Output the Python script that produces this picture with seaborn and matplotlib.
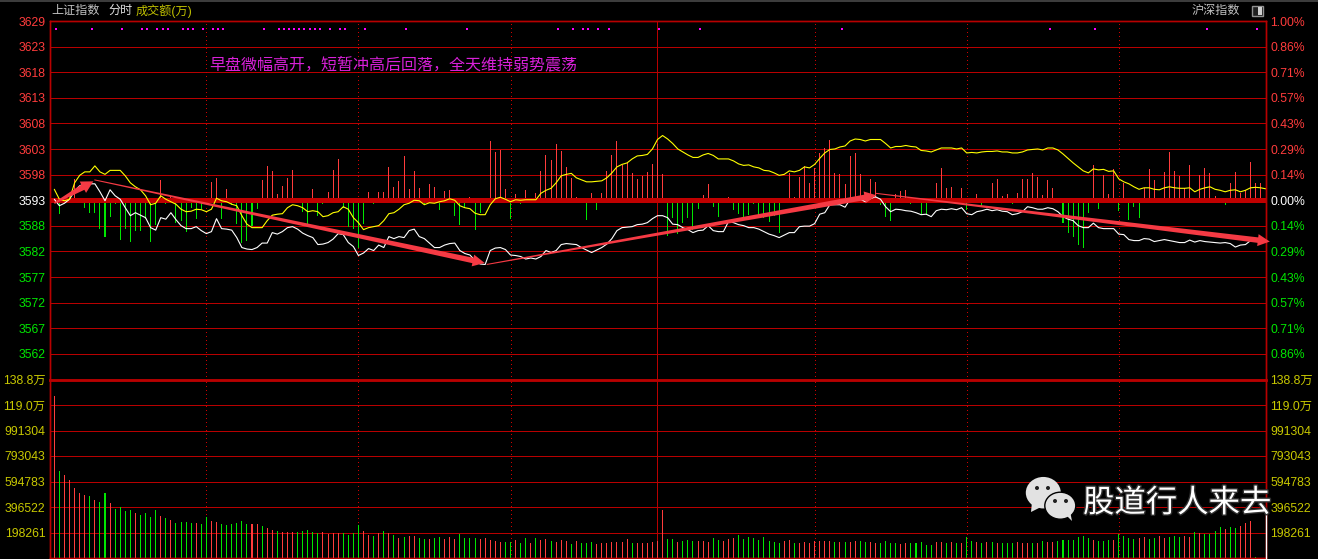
import matplotlib
matplotlib.use('Agg')
import matplotlib.pyplot as plt
import matplotlib.patheffects as pe
from matplotlib.patches import Ellipse, Polygon, Rectangle
from matplotlib.transforms import IdentityTransform
import numpy as np
import pandas as pd
import seaborn as sns

# index points away from the previous close, one value per minute
white_line = [
    0.2, -1.1, -0.6, 0.2, 1.9, 2.9, 3.3, 3.3, 3.3, 1.7, -0.1, 2.1, 0.9, 0.2, -1.5, -3.1, -2.5, -3.0, -3.5, -5.5,
    -6.0, -3.5, -3.8, -2.5, -3.9, -5.1, -5.7, -5.7, -5.3, -6.1, -6.7, -6.3, -3.7, -5.7, -5.8, -6.0, -7.5, -9.5, -9.8, -9.9,
    -9.5, -8.6, -8.6, -6.5, -6.8, -6.3, -5.5, -5.3, -5.8, -6.6, -7.1, -7.5, -8.9, -8.8, -8.5, -7.8, -6.7, -6.9, -8.5, -9.3,
    -11.1, -10.6, -9.7, -10.1, -9.0, -9.5, -7.3, -7.7, -7.3, -7.5, -6.1, -5.8, -7.3, -7.7, -8.6, -9.5, -9.5,
    -9.0, -8.7, -8.6, -10.1, -10.7, -11.0, -12.1, -12.8, -12.9, -10.1, -9.6, -9.5, -9.9,
    -11.0, -11.1, -11.3, -11.8, -11.6, -11.8, -11.3, -10.1, -10.5, -10.1,
    -8.9, -8.7, -8.8, -8.9, -9.5, -10.0, -10.5, -10.0, -9.5, -8.8,
    -7.7, -6.1, -5.5, -5.4, -5.3, -4.9, -4.8, -4.5, -3.7, -3.1,
    -3.1, -3.5, -4.8, -4.9, -5.5, -5.9, -6.5, -6.1, -6.0, -5.1,
    -6.1, -6.3, -6.3, -4.3, -4.5, -4.9, -5.1, -5.5, -5.5, -5.8,
    -6.3, -6.8, -7.1, -7.5, -7.0, -6.5, -6.5, -5.3, -5.2, -5.2,
    -4.7, -2.8, -2.5, -0.9, -0.9, -0.9, -1.4, 0.2, 0.3, 0.2,
    -0.3, 0.3, 0.7, 0.2, -1.3, -2.3, -1.8, -1.9, -2.1, -2.2,
    -2.5, -2.9, -2.8, -3.3, -2.1, -1.8, -1.9, -1.7, -1.9, -1.5,
    -2.7, -2.9, -2.3, -2.1, -1.8, -2.1, -1.9, -2.2, -2.3, -2.9,
    -2.7, -2.3, -1.3, -1.5, -1.8, -1.8, -1.5, -1.7, -2.3, -3.3,
    -3.8, -4.1, -5.1, -5.5, -5.5, -4.6, -5.5, -5.7, -5.7, -5.7,
    -6.8, -6.9, -7.9, -8.1, -8.1, -7.7, -7.8, -8.3, -8.1, -7.9,
    -8.1, -8.3, -8.5, -8.5, -8.0, -8.4, -8.1, -8.3, -8.4, -8.5,
    -8.6, -8.5, -8.7, -9.4, -9.0, -8.9, -8.1, -8.1,
]

yellow_line = [
    2.2, 0.2, -0.1, 0.2, 3.5, 5.0, 5.7, 5.7, 6.9, 5.7, 5.2, 6.0, 6.0, 6.0, 4.9, 3.5, 2.7, 2.1, 0.9, -0.9,
    -0.6, 0.9, 0.2, -0.3, -0.8, -1.8, -2.3, -2.2, -1.8, -1.9, -2.3, -1.8, 0.4, -0.1, -0.3, -0.8, -1.1, -3.1, -4.8, -5.5,
    -5.5, -5.5, -4.1, -3.0, -2.8, -2.7, -1.5, -0.9, -1.1, -1.5, -2.3, -2.1, -2.3, -3.3, -3.1, -2.5, -2.3, -1.3, -1.8, -3.5,
    -4.5, -5.9, -5.5, -5.3, -5.1, -4.1, -2.7, -2.5, -1.8, -0.9, -0.6, 0.0, -0.1, -0.9, -0.5, -0.6, -0.3,
    -0.1, 0.3, 0.0, -1.1, -1.5, -1.7, -2.6, -2.9, -2.9, -0.9, 0.3, 0.6, 0.2,
    -0.3, 0.1, 0.0, 0.1, 0.1, 0.1, 1.4, 2.0, 2.4, 3.5,
    4.9, 5.2, 5.4, 4.5, 4.1, 3.7, 3.7, 3.8, 3.9, 4.5,
    5.5, 6.7, 7.2, 7.5, 8.3, 8.9, 9.0, 9.2, 10.3, 12.2,
    13.0, 12.3, 11.4, 10.3, 9.7, 9.1, 8.6, 8.6, 9.1, 9.4,
    9.0, 8.3, 8.3, 8.3, 7.9, 7.3, 7.0, 7.1, 6.7, 6.5,
    6.0, 5.9, 5.5, 5.0, 5.2, 5.9, 5.7, 6.0, 6.7, 6.5,
    7.2, 8.4, 9.5, 10.2, 10.3, 10.7, 10.9, 11.9, 12.3, 12.2,
    11.9, 12.2, 12.2, 12.2, 11.4, 10.5, 10.8, 10.8, 11.0, 10.8,
    10.7, 10.0, 9.9, 9.7, 10.1, 10.5, 10.5, 10.5, 10.3, 10.5,
    9.5, 9.6, 9.5, 9.7, 9.8, 9.8, 9.9, 9.7, 9.7, 9.5,
    9.5, 9.7, 10.1, 10.2, 10.3, 10.1, 10.5, 10.5, 10.1, 9.3,
    8.4, 7.5, 6.7, 5.9, 5.5, 6.3, 6.1, 6.2, 5.8, 5.9,
    4.3, 3.7, 3.3, 2.7, 2.2, 2.5, 2.5, 2.2, 2.1, 2.5,
    2.7, 2.5, 2.4, 2.4, 2.5, 1.7, 2.2, 2.5, 2.7, 2.2,
    2.0, 1.7, 2.0, 2.1, 1.7, 2.0, 2.5, 2.6, 2.5, 2.3,
]

# buying/selling strength bars, up is red, down is green
strength = [
    0.0, -2.8, -0.2, -0.3, 4.2, -0.3, -1.5, -2.5, -2.5, -5.7, -7.3, -3.3, -0.8, -7.9, -5.7, -8.3, -6.1, -6.1, -3.8, -8.3,
    -5.0, 4.0, -0.8, 0.9, -4.6, -4.1, -6.3, -1.5, -3.8, -1.7, 0.0, 3.7, 4.4, -3.8, 2.2, -1.0, -4.8, -8.5, -8.1, -5.1,
    -1.8, 4.0, 6.9, 5.9, 1.2, 2.9, 4.4, 6.1, 0.4, -2.3, -4.8, 2.2, -3.1, -0.8, 1.7, 6.1, 8.2, -1.5, -5.3, -5.8,
    -9.5, -4.8, 1.7, -0.8, 1.7, 1.7, 6.7, 2.7, 3.9, 8.9, 2.3, 5.9, 2.4, -1.0, 3.2, 2.7, -2.0,
    1.9, 2.1, -3.1, -5.0, -1.5, 0.7, -6.0, -2.5, 0.0, 11.8, 9.7, 10.0, 2.2,
    -3.7, 1.2, -0.8, 2.0, 0.3, 1.5, 5.9, 9.0, 8.0, 11.2,
    9.8, 6.7, 4.5, 0.6, 0.0, -4.0, 1.5, -2.0, 1.4, 5.9,
    9.0, 11.8, 7.0, 7.5, 5.5, 4.2, 4.9, 5.7, 7.2, 11.2,
    5.3, -7.1, -3.6, -6.8, -4.5, -3.5, -5.9, -1.8, 1.0, 3.2,
    -1.3, -3.3, 0.5, 0.7, -1.9, -2.8, -3.3, -3.0, -0.8, -2.9,
    -3.5, -4.3, -3.1, -6.6, 0.5, 5.5, 0.7, 4.7, 6.9, 3.4,
    6.5, 9.5, 10.5, 12.2, 5.5, 5.2, 3.2, 8.9, 9.4, 5.2,
    1.2, 4.2, 3.7, -1.0, -3.3, -4.1, 1.2, 1.9, 2.1, -0.8,
    0.5, -3.0, -3.0, 0.5, 3.4, 6.4, 2.4, 2.7, -0.7, 2.5,
    -1.9, 0.4, 1.2, -1.3, 0.4, 3.5, 4.3, 0.8, 1.2, -0.8,
    1.4, 4.2, 4.2, 5.4, 4.7, 1.0, 4.0, 2.4, -0.4, -4.6,
    -6.6, -7.4, -9.0, -9.6, -2.6, 7.0, -1.8, 5.0, 1.2, 6.2,
    -2.1, 3.5, -4.0, -1.3, -3.6, 2.5, 6.2, 4.0, 0.3, 5.7,
    9.7, 5.9, 4.9, 2.5, 7.0, -0.2, 5.1, 6.4, 5.4, 0.9,
    0.0, -1.0, 3.4, 5.7, 1.5, 2.0, 7.7, 3.5, 3.5,
]

# turnover in units of 10k
volume = [
    126.2, 67.4, 64.3, 60.4, 54.2, 50.3, 48.8, 48.0, 44.9, 43.4, 50.3, 42.6, 37.9, 39.5, 36.4, 37.2, 34.8, 33.3, 34.8, 31.8,
    37.2, 32.5, 31.0, 29.4, 27.1, 27.9, 27.9, 27.1, 27.1, 26.3, 31.8, 28.7, 27.9, 26.3, 25.6, 26.3, 27.1, 28.7, 26.3, 26.3,
    26.3, 24.8, 23.2, 21.7, 20.9, 20.1, 20.1, 20.1, 20.1, 20.9, 21.7, 20.1, 19.4, 20.1, 18.6, 19.4, 19.4, 19.4, 17.8, 19.4,
    25.6, 20.9, 17.8, 17.0, 19.4, 20.9, 19.4, 17.8, 15.5, 16.3, 17.0, 17.0, 15.5, 14.7, 14.7, 15.5, 16.3,
    14.7, 16.3, 14.7, 18.6, 15.5, 15.5, 15.5, 14.7, 15.5, 13.9, 13.2, 12.4, 12.4,
    12.4, 13.9, 11.6, 15.5, 11.6, 15.5, 13.9, 14.7, 13.2, 12.4,
    13.9, 13.2, 10.8, 13.2, 11.6, 11.6, 12.4, 10.8, 11.6, 11.6,
    12.4, 12.4, 12.4, 14.7, 11.6, 11.6, 11.6, 11.6, 12.4, 13.2,
    37.2, 14.7, 14.7, 12.4, 13.2, 13.9, 13.2, 13.2, 13.2, 12.4,
    15.5, 13.9, 13.2, 14.7, 15.5, 17.8, 14.7, 16.3, 15.5, 13.9,
    16.3, 13.2, 12.4, 11.6, 13.2, 13.9, 11.6, 11.6, 12.4, 11.6,
    13.2, 13.2, 13.2, 13.2, 12.4, 12.4, 12.4, 12.4, 13.2, 13.2,
    12.4, 12.4, 11.6, 11.6, 13.2, 11.6, 11.6, 10.8, 11.6, 11.6,
    11.6, 12.4, 10.1, 10.1, 12.4, 12.4, 11.6, 12.4, 11.6, 11.6,
    16.3, 13.2, 12.4, 11.6, 12.4, 12.4, 11.6, 11.6, 11.6, 11.6,
    12.4, 11.6, 11.6, 11.6, 11.6, 13.2, 12.4, 12.4, 13.2, 13.9,
    13.9, 13.9, 16.3, 17.0, 15.5, 13.9, 13.2, 13.2, 13.9, 13.9,
    18.6, 17.0, 15.5, 14.7, 15.5, 16.3, 14.7, 15.5, 17.0, 15.5,
    16.3, 17.0, 16.3, 17.0, 16.3, 20.1, 19.4, 18.6, 18.6, 20.9,
    24.0, 22.5, 24.0, 23.2, 24.8, 27.1, 28.7, 0.8,
]

volume_side = (
    'rgrrrrrgrg' 'grggggrggg' 'grgrggggrg' 'grrggggggr' 'rgrrgrrrgg' 'gggrrrrggg' 'grrgrgrgrg' 'rrggrgg'
    'rrr' 'ggggrrrrrg' 'grggrgrrgr' 'rrgrgggrrr' 'rrrrgrrrrr' 'rggrgggrrr' 'ggrrrggggg' 'ggggrrgrrr' 'rrrrgrgrrg' 'grr'
    'ggggrrg' 'ggggrrgrgr' 'ggrgrgrggg' 'rrrgrgrrgg' 'gggggrgggr' 'ggggrrggrr' 'gggrrgrggg' 'grggrrrg'
)

event_minutes = [0, 7, 13, 17, 18, 20, 21, 22, 25, 26, 27, 29, 31, 32, 33, 41, 44, 45, 46, 47, 48, 49, 50, 51, 52, 54,
                 56, 57, 61, 69, 81, 99, 102, 104, 105, 107, 109, 119, 127, 155, 196, 205, 227, 237]

price_labels = ['3629', '3623', '3618', '3613', '3608', '3603', '3598', '3593',
                '3588', '3582', '3577', '3572', '3567', '3562']
pct_labels = ['1.00%', '0.86%', '0.71%', '0.57%', '0.43%', '0.29%', '0.14%', '0.00%',
              '0.14%', '0.29%', '0.43%', '0.57%', '0.71%', '0.86%']
volume_labels = ['198261', '396522', '594783', '793043', '991304', '119.0万', '138.8万']

half_hours = [30, 60, 90, 150, 180, 210]
NOON = 118.9
STEP = 36 / 7
VOL_STEP = 19.8261

# trend arrows: minute, offset, minute, offset, start width, end width
trend_arrows = [
    (0.0, -0.6, 7.7, 3.8, 1.5, 6, 13, 12),
    (7.9, 4.1, 84.9, -12.6, 1, 5.5, 12, 12),
    (85.3, -12.9, 162.2, 1.0, 1, 5.5, 12, 12),
    (162.0, 1.4, 239.8, -8.3, 1, 5.5, 12, 12),
]

GRID = '#b80000'
RED = '#ff3c3c'
GREEN = '#00e600'
OLIVE = '#c8c800'

sns.set_theme(style='dark', rc={'figure.facecolor': 'black', 'axes.facecolor': 'black'})
plt.rcParams['font.family'] = ['Liberation Sans', 'Noto Sans CJK SC', 'DejaVu Sans']

W, H = 1318, 559
fig = plt.figure(figsize=(W / 100, H / 100), dpi=100)


def px_axes(left, top, right, bottom):
    return fig.add_axes([left / W, 1 - bottom / H, (right - left) / W, (bottom - top) / H])


ax = px_axes(49.5, 21, 1266, 379.5)
ax_vol = px_axes(49.5, 379.5, 1266, 558)
palette = {'r': RED, 'g': GREEN}

# top panel
df = pd.DataFrame({'minute': np.arange(len(strength)), 'value': strength})
df['side'] = np.where(df['value'] >= 0, 'r', 'g')
df = df[df['value'] != 0]
sns.barplot(data=df, x='minute', y='value', hue='side', palette=palette, native_scale=True, dodge=False,
            width=0.2, saturation=1, errorbar=None, legend=False, linewidth=0, antialiased=False, zorder=3, ax=ax)
sns.lineplot(x=np.arange(len(white_line)), y=white_line, color='white', lw=0.8, zorder=5, ax=ax)
sns.lineplot(x=np.arange(len(yellow_line)), y=yellow_line, color='#ffff00', lw=0.8, zorder=5, ax=ax)
sns.scatterplot(x=np.array(event_minutes) + 0.35, y=[34.3] * len(event_minutes), color='#ff00ff', marker='s', s=4.5,
                linewidth=0, zorder=5, ax=ax)
ax.set_xlim(-0.95, 239.05)
ax.set_ylim(-36, 36)
ticks = [STEP * k for k in range(7, -7, -1)]
ax.set_yticks(ticks)
ax.set_yticklabels(price_labels)
ax.axhline(0, color='#c00000', lw=2.2, antialiased=False, zorder=4)

right = ax.twinx()
right.set_ylim(-36, 36)
right.set_yticks(ticks)
right.set_yticklabels(pct_labels)
for axis in (ax, right):
    for lab, t in zip(axis.get_yticklabels(), ticks):
        lab.set_color(RED if t > 0.1 else (GREEN if t < -0.1 else 'white'))

# volume panel
vol = pd.DataFrame({'minute': np.arange(len(volume)), 'value': volume, 'side': list(volume_side)})
sns.barplot(data=vol, x='minute', y='value', hue='side', palette=palette, native_scale=True, dodge=False,
            width=0.2, saturation=1, errorbar=None, legend=False, linewidth=0, antialiased=False, zorder=3, ax=ax_vol)
ax_vol.set_xlim(-0.95, 239.05)
ax_vol.set_ylim(0, 7 * VOL_STEP)
vol_ticks = [VOL_STEP * k for k in range(1, 8)]
ax_vol.set_yticks(vol_ticks)
ax_vol.set_yticklabels(volume_labels, color=OLIVE)
right_vol = ax_vol.twinx()
right_vol.set_ylim(0, 7 * VOL_STEP)
right_vol.set_yticks(vol_ticks)
right_vol.set_yticklabels(volume_labels, color=OLIVE)

for a in (ax, ax_vol, right, right_vol):
    a.set_xlabel('')
    a.set_ylabel('')
    a.set_xticks([])
    a.grid(False)
    a.tick_params(axis='y', length=0, pad=3, labelsize=8.8)
    for s in a.spines.values():
        s.set_color(GRID)
        s.set_linewidth(1)
    a.patch.set_alpha(0)
ax_vol.spines['top'].set_linewidth(2)
ax_vol.spines['bottom'].set_color('#e01010')

for a in (ax, ax_vol):
    for t in a.get_yticks():
        a.axhline(t, color=GRID, lw=0.72, antialiased=False, zorder=1)
    for m in half_hours:
        a.axvline(m, color='#d00000', lw=0.72, ls=(0, (1, 3)), antialiased=False, zorder=2)
    a.axvline(NOON, color=GRID, lw=0.72, antialiased=False, zorder=2)

# pixel-space layer for the window furniture and the watermark
ov = fig.add_axes([0, 0, 1, 1], zorder=10)
ov.set_xlim(0, W)
ov.set_ylim(H, 0)
ov.axis('off')

ov.add_patch(Rectangle((0, 0), W, 1.5, color='#3c3c3c', lw=0))
ov.text(51, 11, '上证指数', color='#c0c0c0', fontsize=8.7, va='center')
ov.text(108, 11, '分时', color='#e0e0e0', fontsize=8.7, va='center')
ov.text(136, 11, '成交额(万)', color='#c0c000', fontsize=8.7, va='center')
ov.text(1192, 11, '沪深指数', color='#c0c0c0', fontsize=8.7, va='center')
ov.add_patch(Rectangle((1252, 6), 11, 10, facecolor='#202020', edgecolor='#909090', lw=1))
ov.add_patch(Rectangle((1258, 7), 4, 8, facecolor='#d0d0d0', lw=0))
ov.text(209, 64, '早盘微幅高开，短暂冲高后回落，全天维持弱势震荡', color='#d820d8', fontsize=11.5, va='center')

# trend arrows, drawn in screen space so they stay tapered
fig.canvas.draw()
for x0, y0, x1, y1, w0, w1, head_w, head_l in trend_arrows:
    p0, p1 = ax.transData.transform([(x0, y0), (x1, y1)])
    d = (p1 - p0) / np.hypot(*(p1 - p0))
    n = np.array([-d[1], d[0]])
    neck = p1 - d * head_l
    pts = [p0 + n * w0 / 2, neck + n * w1 / 2, neck + n * head_w / 2, p1,
           neck - n * head_w / 2, neck - n * w1 / 2, p0 - n * w0 / 2]
    fig.add_artist(Polygon(pts, closed=True, transform=IdentityTransform(), facecolor='#f53a44', edgecolor='none',
                           zorder=20))

# watermark
ov.plot([1266, 1266], [513, 558], color='white', lw=1, zorder=30)
logo = '#e2e2e2'
ov.add_patch(Polygon([(1032, 502), (1031, 512), (1043, 506)], facecolor=logo, lw=0, zorder=31))
ov.add_patch(Ellipse((1043.3, 492.7), 35, 31.5, facecolor=logo, lw=0, zorder=31))
ov.add_patch(Polygon([(1066, 515), (1072, 521), (1070, 511)], facecolor=logo, lw=0, zorder=33))
ov.add_patch(Ellipse((1060.3, 505.7), 31, 27, facecolor=logo, edgecolor='black', lw=1, zorder=32))
for ex, ey, z in [(1037, 488, 31), (1048, 488, 31), (1055, 501, 33), (1066, 501, 33)]:
    ov.add_patch(Ellipse((ex, ey), 4, 4, facecolor='#202020', lw=0, zorder=z + 1))
ov.text(1083, 503, '股道行人来去', color='white', fontsize=22.6, va='center', zorder=35,
        family=['Noto Sans CJK SC', 'DejaVu Sans'],
        path_effects=[pe.withStroke(linewidth=2, foreground='#303030')])

fig.savefig('out.png', dpi=100, facecolor='black')
